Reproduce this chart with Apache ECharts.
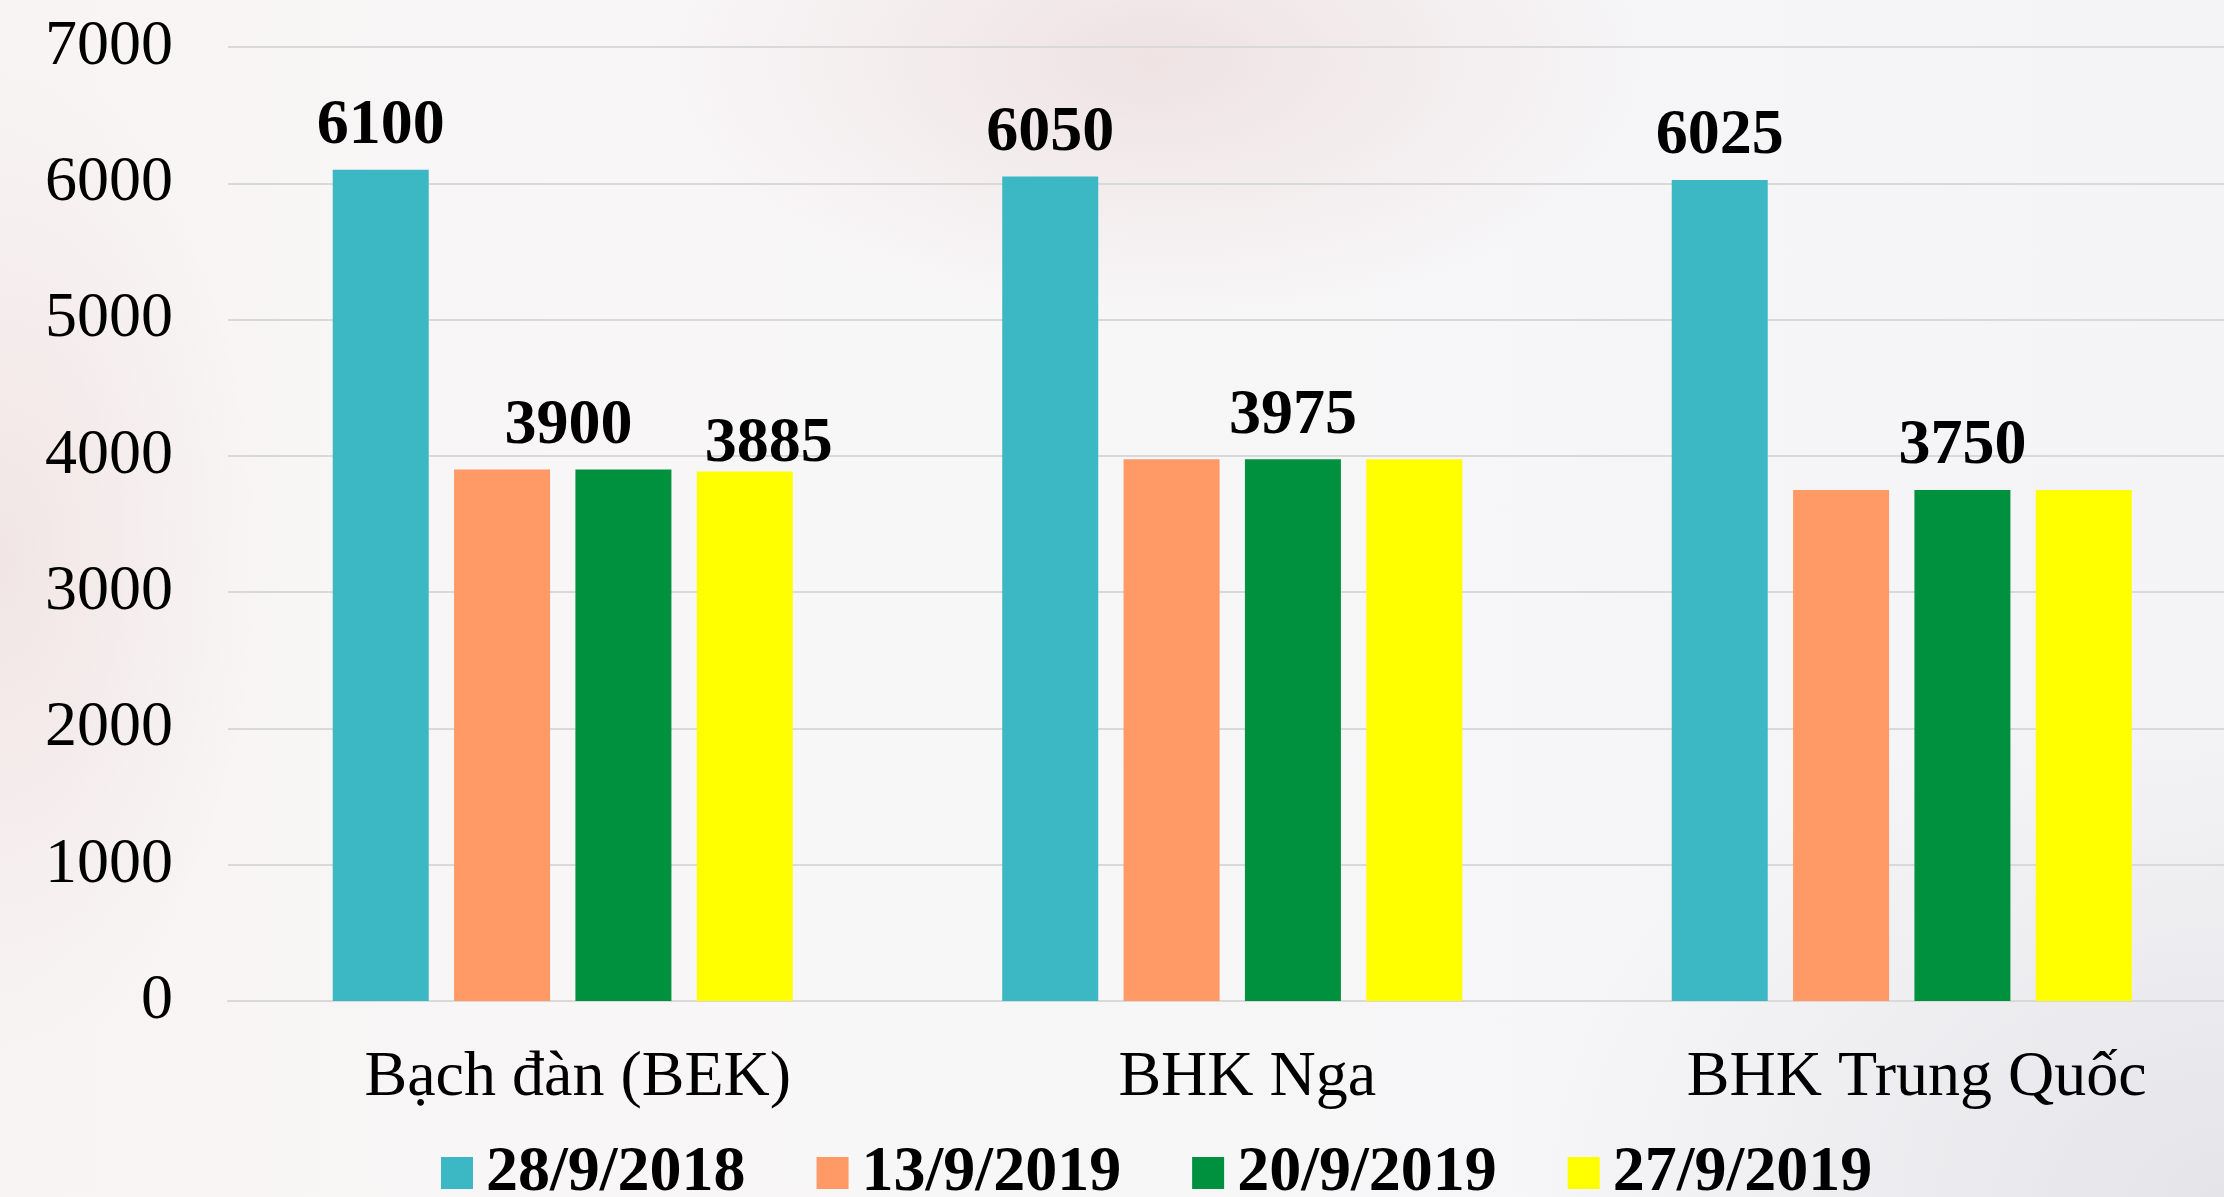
<!DOCTYPE html>
<html>
<head>
<meta charset="utf-8">
<script src="https://cdn.jsdelivr.net/npm/echarts@6/dist/echarts.min.js"></script>
<style>
html,body{margin:0;padding:0;}
body{
  width:2224px;height:1197px;overflow:hidden;
  background:
    radial-gradient(ellipse 500px 260px at 1150px 60px, rgba(232,210,210,0.55), rgba(232,210,210,0) 100%),
    radial-gradient(ellipse 260px 500px at 0px 560px, rgba(236,220,218,0.6), rgba(236,220,218,0) 100%),
    radial-gradient(ellipse 700px 500px at 2224px 1197px, rgba(225,225,230,0.8), rgba(225,225,230,0) 100%),
    linear-gradient(90deg, #f8f4f4 0%, #f8f7f8 40%, #f4f4f6 100%);
}
#chart{width:2240px;height:1197px;}
</style>
</head>
<body>
<div id="chart"></div>
<script>
var categories = ['Bạch đàn (BEK)', 'BHK Nga', 'BHK Trung Quốc'];
var seriesNames = ['28/9/2018', '13/9/2019', '20/9/2019', '27/9/2019'];
var s2018_09_28 = [6100, 6050, 6025];
var s2019_09_13 = [3900, 3975, 3750];
var s2019_09_20 = [3900, 3975, 3750];
var s2019_09_27 = [3885, 3975, 3750];
var yTicks = [0, 1000, 2000, 3000, 4000, 5000, 6000, 7000];

var colors = ['#3cb7c4', '#ff9966', '#00913f', '#ffff00'];
var FONT = '"Liberation Serif", "Times New Roman", serif';

var baseLabel = {
  show: true, position: 'top', distance: 11,
  fontFamily: FONT, fontSize: 64, fontWeight: 'bold', color: '#000'
};

// which labels are visible (as in the reference) and their nudges
function buildData(values, labelCfg) {
  return values.map(function (v, i) {
    var cfg = labelCfg[i];
    if (!cfg) return { value: v, label: { show: false } };
    return { value: v, label: Object.assign({}, baseLabel, cfg) };
  });
}

var chart = echarts.init(document.getElementById('chart'), null, { renderer: 'canvas' });
chart.setOption({
  backgroundColor: 'transparent',
  animation: false,
  color: colors,
  grid: { left: 228, right: 3.5, top: 47, bottom: 196, containLabel: false },
  legend: {
    data: seriesNames,
    left: 441, top: 1141, padding: 0,
    itemWidth: 32, itemHeight: 32, itemGap: 71,
    icon: 'rect',
    textStyle: { fontFamily: FONT, fontSize: 64, fontWeight: 'bold', color: '#000', padding: [0, 0, 0, 8] }
  },
  xAxis: {
    type: 'category', data: categories,
    axisLine: { show: true, lineStyle: { color: '#d9d9d9', width: 2 } },
    axisTick: { show: false },
    axisLabel: { fontFamily: FONT, fontSize: 64, color: '#000', margin: 45, padding: [0, 0, 0, 30] }
  },
  yAxis: {
    type: 'value', min: yTicks[0], max: yTicks[yTicks.length - 1], interval: 1000,
    axisLine: { show: false }, axisTick: { show: false },
    axisLabel: { fontFamily: FONT, fontSize: 64, color: '#000', margin: 55,
      formatter: function (v) { return String(v); } },
    splitLine: { lineStyle: { color: '#d9d9d9', width: 2 } }
  },
  series: [
    { name: seriesNames[0], type: 'bar', barWidth: 96, barGap: '26.4%',
      data: buildData(s2018_09_28, [{}, {}, {}]) },
    { name: seriesNames[1], type: 'bar', barWidth: 96, barGap: '26.4%',
      data: buildData(s2019_09_13, [null, null, null]) },
    { name: seriesNames[2], type: 'bar', barWidth: 96, barGap: '26.4%',
      data: buildData(s2019_09_20, [{ offset: [-55, 0] }, {}, {}]) },
    { name: seriesNames[3], type: 'bar', barWidth: 96, barGap: '26.4%',
      data: buildData(s2019_09_27, [{ offset: [24, 16] }, null, null]) }
  ]
});
</script>
</body>
</html>
